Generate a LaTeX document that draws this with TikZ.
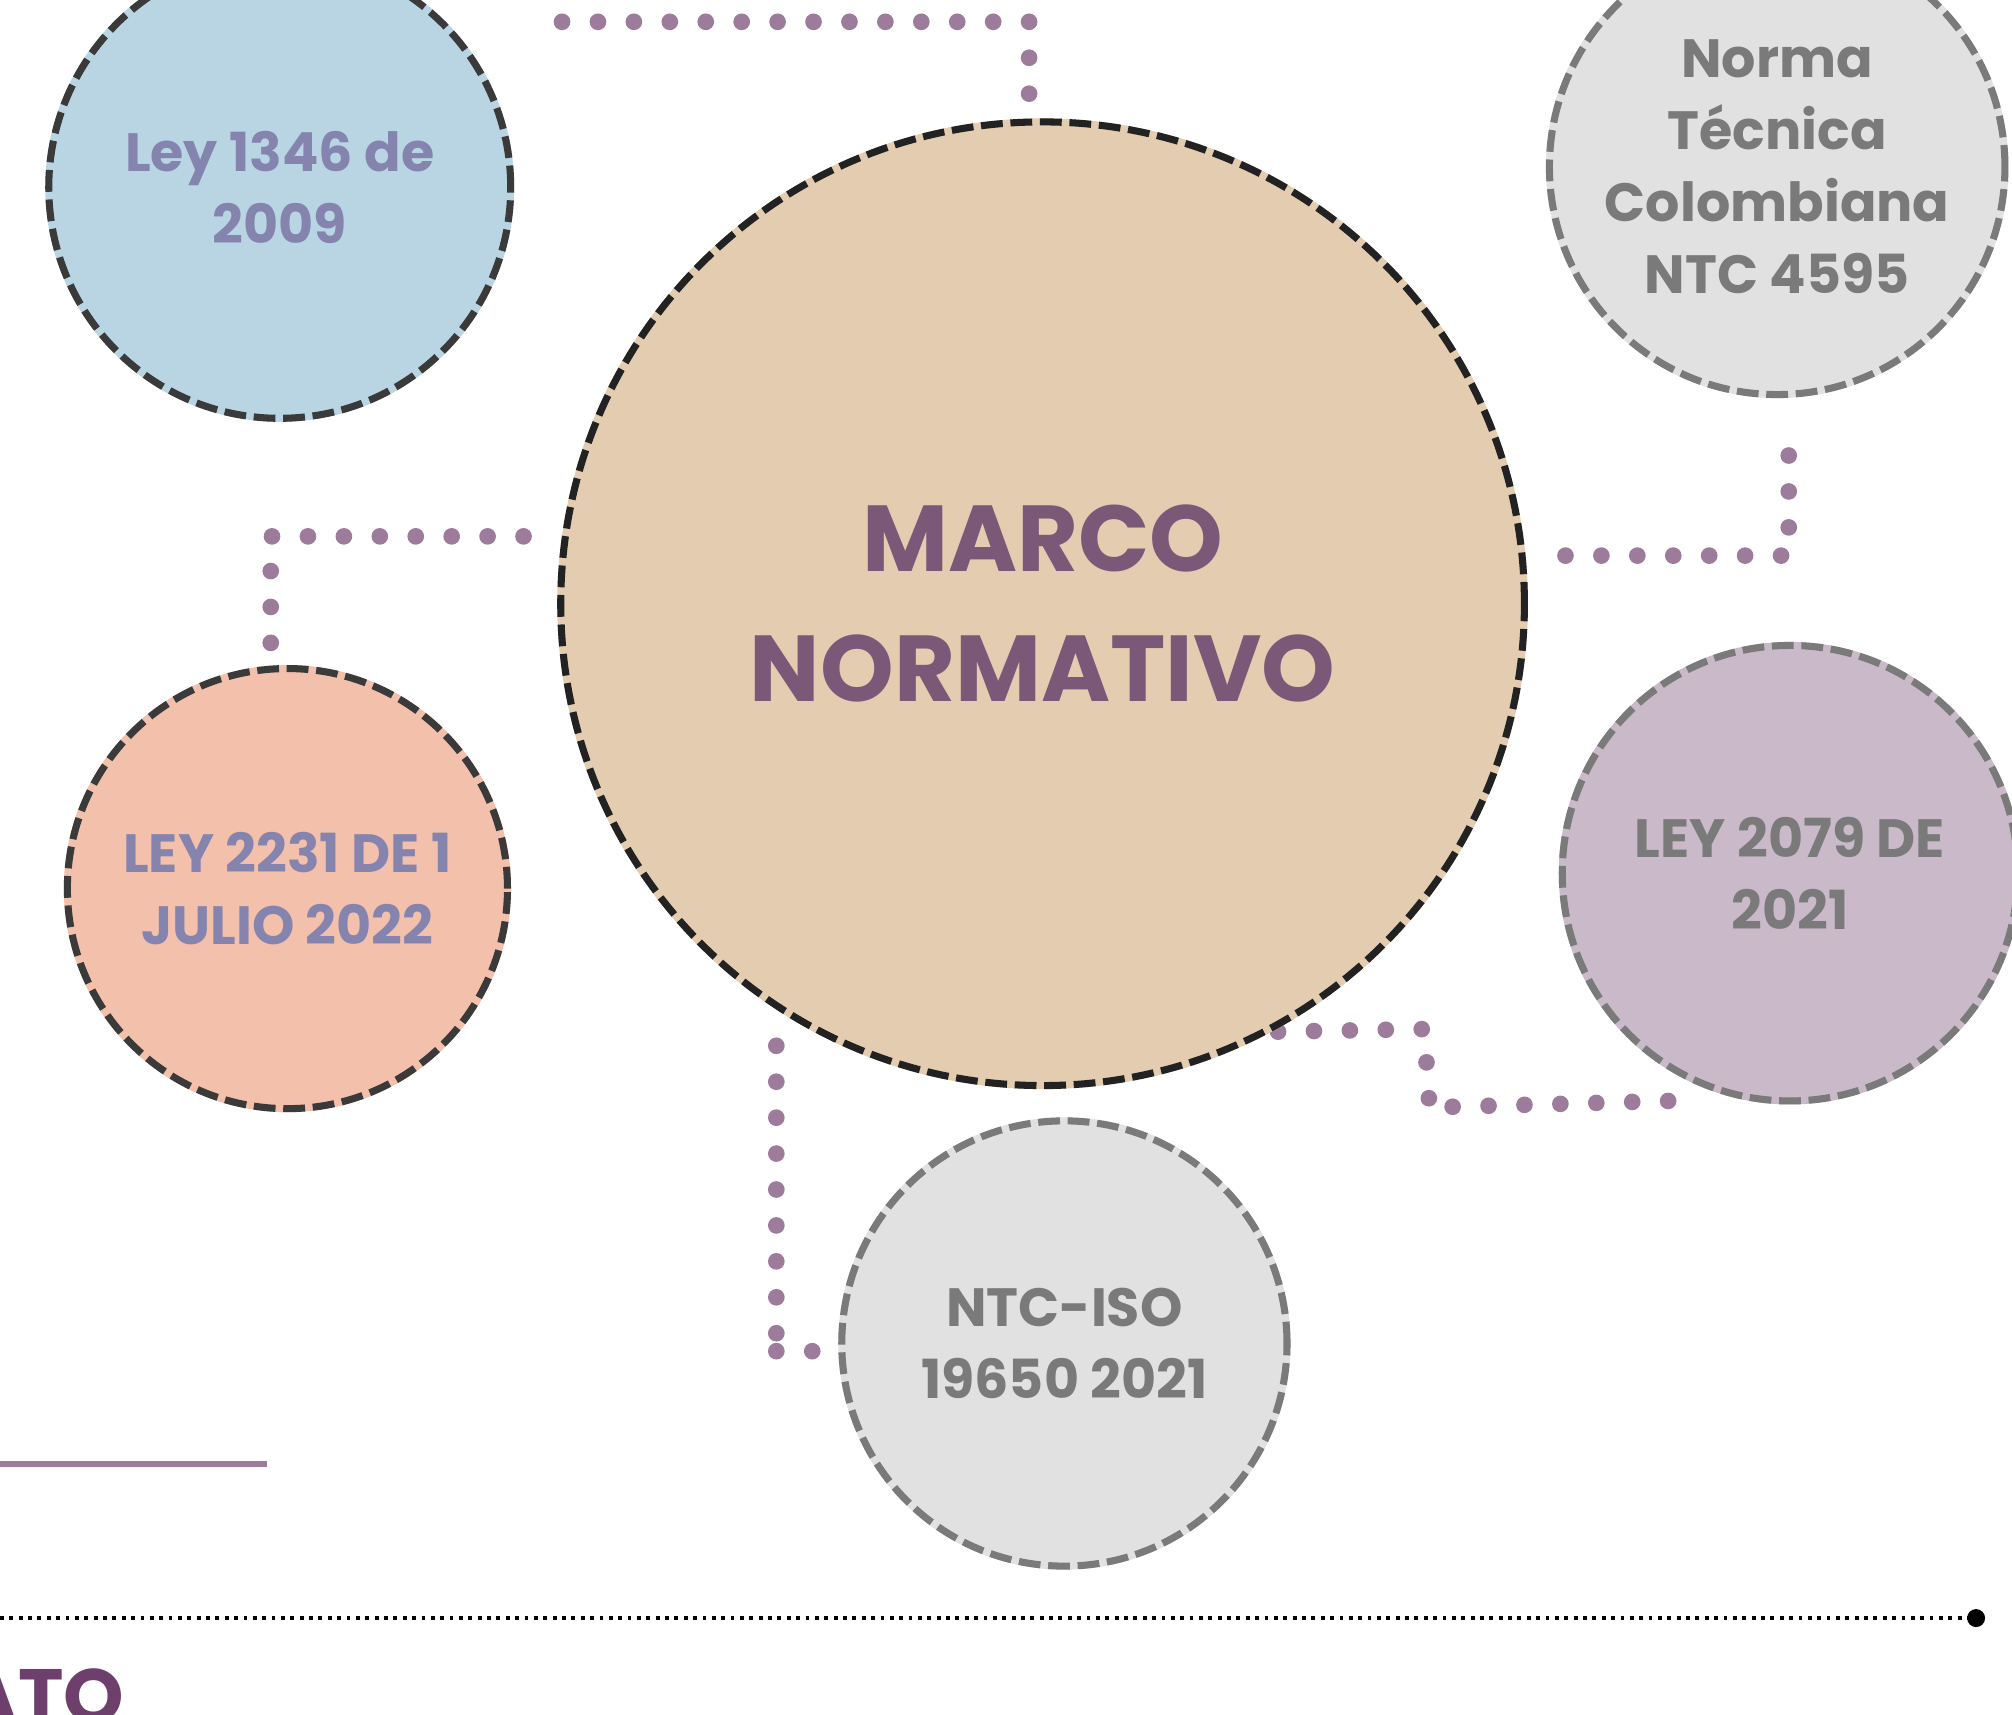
\documentclass[tikz,border=0pt]{standalone}
\usepackage{fontspec}
\setmainfont{Poppins}
\definecolor{cblue}{HTML}{B9D5E3}
\definecolor{cpeach}{HTML}{E3CCB0}
\definecolor{csalmon}{HTML}{F3C0AC}
\definecolor{cgray}{HTML}{E1E1E1}
\definecolor{cmauve}{HTML}{C9B9C9}
\definecolor{bdark}{HTML}{3A3A3A}
\definecolor{bblack}{HTML}{222222}
\definecolor{bgray}{HTML}{7A7A7A}
\definecolor{tpurple}{HTML}{7B5878}
\definecolor{tlav}{HTML}{8484AE}
\definecolor{tgray}{HTML}{7A7A7A}
\definecolor{cdot}{HTML}{9D7B9B}
\definecolor{cato}{HTML}{6E3F6C}
\tikzset{
  bubble/.style n args={4}{circle, inner sep=0pt, align=center, minimum size=#4,
    fill=#1, draw=#2, text=#3, line width=5.5pt, dash pattern=on 17pt off 6pt,
    preaction={draw=#1, solid, line width=5.5pt},
    font=\fontsize{42}{56}\selectfont\bfseries},
  dotline/.style={draw=cdot, line width=13pt, line cap=round, dash pattern=on 0pt off 28pt},
}
\begin{document}
\begin{tikzpicture}[x=1pt,y=-1pt]
\useasboundingbox (0,0) rectangle (1568,1336);
\clip (0,0) rectangle (1568,1336);
% connectors
\coordinate (t1) at (802,73); \coordinate (t2) at (432,17);
\draw[dotline] (t1) |- (t2);
\coordinate (r1) at (1394,355); \coordinate (r2) at (1210,433);
\draw[dotline] (r1) |- (r2);
\coordinate (l1) at (408,418); \coordinate (l2) at (211,507);
\draw[dotline] (l1) -| (l2);
\coordinate (b1) at (605,815); \coordinate (bm) at (605,1040);
\coordinate (bc) at (605,1053); \coordinate (b2) at (633,1053);
\draw[dotline] (b1) -- (bm);
\draw[dotline] (bc) -- (b2);
\coordinate (s1) at (996,804); \coordinate (s2) at (1110,802);
\coordinate (s3) at (1114,863); \coordinate (s4) at (1300,858);
\draw[dotline] (s1) -- (s2) -- (s3);
\draw[dotline] (s4) -- (s3);
% circles
\node[bubble={cblue}{bdark}{tlav}{360pt}] (ley1346) at (218,146) {Ley 1346 de\\2009};
\node[bubble={cgray}{bgray}{tgray}{355pt}] (ntc4595) at (1385,130) {Norma\\Técnica\\Colombiana\\NTC 4595};
\node[bubble={cpeach}{bblack}{tpurple}{751pt}, font=\fontsize{73}{101}\selectfont\bfseries] (marco) at (812.5,470.5) {MARCO\\NORMATIVO};
\node[bubble={csalmon}{bdark}{tlav}{343pt}] (ley2231) at (224,692.5) {LEY 2231 DE 1\\JULIO 2022};
\node[bubble={cmauve}{bgray}{tgray}{355pt}] (ley2079) at (1395,680.5) {LEY 2079 DE\\2021};
\node[bubble={cgray}{bgray}{tgray}{347pt}] (ntciso) at (829.5,1047) {NTC-ISO\\19650 2021};
% bottom decorations
\coordinate (p1) at (0,1141); \coordinate (p2) at (208,1141);
\draw[cdot, line width=5pt] (p1) -- (p2);
\coordinate (k1) at (0,1261); \node[circle, fill=black, inner sep=0pt, minimum size=14pt] (kend) at (1540,1261) {};
\draw[black, line width=3pt, dash pattern=on 3pt off 4.3pt] (k1) -- (kend.center);
\node[anchor=base east, inner sep=0pt, text=cato, font=\fontsize{60}{60}\selectfont\bfseries] (ato) at (97,1343) {ATO};
\end{tikzpicture}
\end{document}
